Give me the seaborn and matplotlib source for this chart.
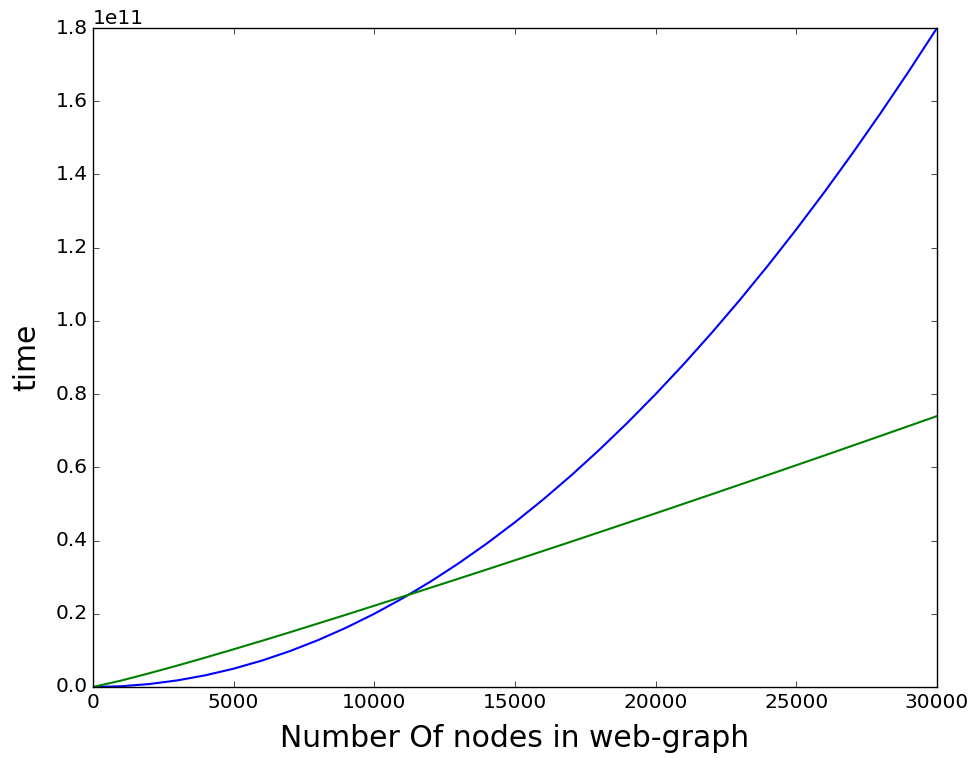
import matplotlib
matplotlib.use("Agg")
import matplotlib.pyplot as plt
import seaborn as sns
import numpy as np

# Values (time in units of 1e11)
nodes = [0, 1000, 2000, 3000, 4000, 5000, 6000, 7000, 8000, 9000, 10000,
         11000, 12000, 13000, 14000, 15000, 16000, 17000, 18000, 19000, 20000,
         21000, 22000, 23000, 24000, 25000, 26000, 27000, 28000, 29000, 30000]
time_blue = [0.0, 0.002, 0.008, 0.018, 0.032, 0.05, 0.072, 0.098, 0.128, 0.162, 0.2,
             0.242, 0.288, 0.338, 0.392, 0.45, 0.512, 0.578, 0.648, 0.722, 0.8,
             0.882, 0.968, 1.058, 1.152, 1.25, 1.352, 1.458, 1.568, 1.682, 1.8]
time_green = [0.0, 0.0175, 0.0375, 0.0585, 0.0805, 0.103, 0.126, 0.1495, 0.1735, 0.1975, 0.222,
              0.2465, 0.2712, 0.296, 0.321, 0.3462, 0.3716, 0.397, 0.4227, 0.4485, 0.4744,
              0.5005, 0.5266, 0.5529, 0.5793, 0.6058, 0.6324, 0.6592, 0.686, 0.713, 0.74]

plt.style.use("classic")
plt.rcParams["font.family"] = ["DejaVu Sans"]

fig = plt.figure(figsize=(9.76, 7.58), dpi=100, facecolor="white")
ax = fig.add_axes([0.0953, 0.0937, 0.8647, 0.8693])

sns.lineplot(x=nodes, y=np.array(time_blue) * 1e11, color="b", linewidth=1.5, ax=ax)
sns.lineplot(x=nodes, y=np.array(time_green) * 1e11, color="g", linewidth=1.5, ax=ax)

ax.set_xlim(0, 30000)
ax.set_ylim(0, 1.8e11)
ax.set_xlabel("Number Of nodes in web-graph", fontsize=21.5, labelpad=9)
ax.set_ylabel("time", fontsize=21.5, labelpad=10)
ax.tick_params(labelsize=14.5)
ax.yaxis.get_offset_text().set_fontsize(14.5)

fig.savefig("out.png", dpi=100, facecolor="white")
